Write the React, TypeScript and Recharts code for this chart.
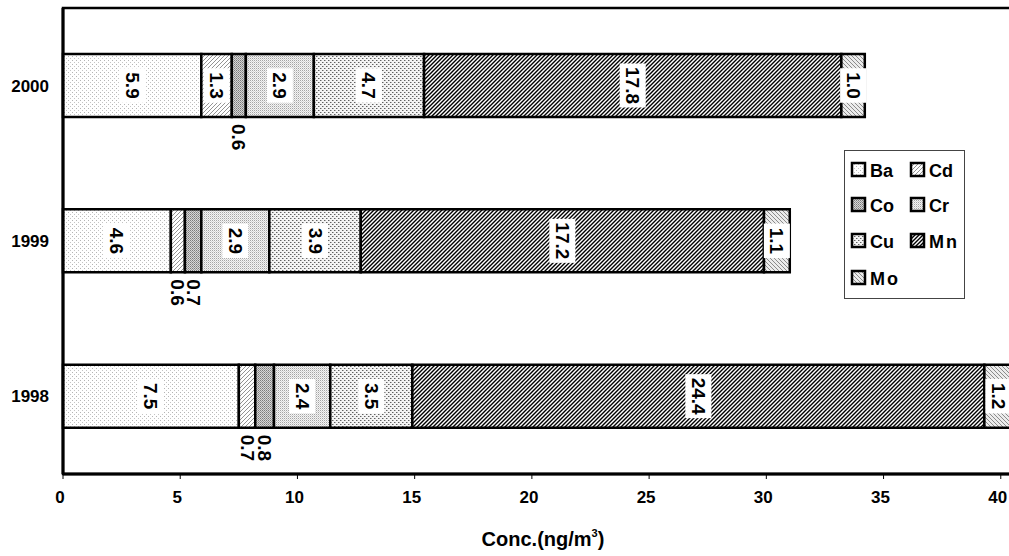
import React from "react";
import { Bar, BarChart, LabelList, Legend, ReferenceArea, XAxis, YAxis, Label } from "recharts";

const years = ["2000", "1999", "1998"];
const elements = ["Ba", "Cd", "Co", "Cr", "Cu", "Mn", "Mo"];
const ba = [5.9, 4.6, 7.5];
const cd = [1.3, 0.6, 0.7];
const co = [0.6, 0.7, 0.8];
const cr = [2.9, 2.9, 2.4];
const cu = [4.7, 3.9, 3.5];
const mn = [17.8, 17.2, 24.4];
const mo = [1.0, 1.1, 1.2];
const xTicks = [0, 5, 10, 15, 20, 25, 30, 35, 40];

const seriesValues = [ba, cd, co, cr, cu, mn, mo];
const rows = years.map((year, i) => {
  const row: Record<string, string | number> = { year };
  elements.forEach((el, j) => {
    row[el] = seriesValues[j][i];
  });
  return row;
});

const FONT = "'Liberation Sans', Arial, sans-serif";

function Patterns() {
  return (
    <defs>
      <pattern id="p-Ba" width="4" height="4" patternUnits="userSpaceOnUse">
        <rect width="4" height="4" fill="#fff" />
        <rect x="0" y="0" width="1" height="1" fill="#b4b4b4" />
        <rect x="2" y="2" width="1" height="1" fill="#c4c4c4" />
      </pattern>
      <pattern id="p-Cd" width="4" height="4" patternUnits="userSpaceOnUse">
        <rect width="4" height="4" fill="#fff" />
        <path d="M0,4 L4,0 M-1,1 L1,-1 M3,5 L5,3" stroke="#777" strokeWidth="0.8" />
      </pattern>
      <pattern id="p-Co" width="2" height="2" patternUnits="userSpaceOnUse">
        <rect width="2" height="2" fill="#d6d6d6" />
        <rect x="0" y="0" width="1" height="1" fill="#7a7a7a" />
        <rect x="1" y="1" width="1" height="1" fill="#9a9a9a" />
      </pattern>
      <pattern id="p-Cr" width="2" height="2" patternUnits="userSpaceOnUse">
        <rect width="2" height="2" fill="#f4f4f4" />
        <rect x="0" y="0" width="1" height="1" fill="#a4a4a4" />
        <rect x="1" y="1" width="1" height="1" fill="#d4d4d4" />
      </pattern>
      <pattern id="p-Cu" width="4" height="4" patternUnits="userSpaceOnUse">
        <rect width="4" height="4" fill="#f4f4f4" />
        <rect x="0" y="0" width="1" height="1" fill="#606060" />
        <rect x="2" y="2" width="1" height="1" fill="#606060" />
        <rect x="1" y="0" width="1" height="1" fill="#b0b0b0" />
        <rect x="3" y="2" width="1" height="1" fill="#b0b0b0" />
      </pattern>
      <pattern id="p-Mn" width="4" height="4" patternUnits="userSpaceOnUse">
        <rect width="4" height="4" fill="#fff" />
        <path d="M0,4 L4,0 M-1,1 L1,-1 M3,5 L5,3" stroke="#000" strokeWidth="1.4" />
      </pattern>
      <pattern id="p-Mo" width="4" height="4" patternUnits="userSpaceOnUse">
        <rect width="4" height="4" fill="#ececec" />
        <path d="M0,0 L4,4 M-1,3 L1,5 M3,-1 L5,1" stroke="#808080" strokeWidth="0.9" />
      </pattern>
    </defs>
  );
}

function segLabel(props: any) {
  const vb = props.viewBox ?? props;
  const x = Number(vb.x ?? props.x);
  const y = Number(vb.y ?? props.y);
  const w = Number(vb.width ?? props.width);
  const h = Number(vb.height ?? props.height);
  let v = props.value;
  if (Array.isArray(v)) v = v[1] - v[0];
  const text = Number(v).toFixed(1);
  const cx = x + w / 2;
  const fs = 19;
  const len = text.length * fs * 0.5;
  if (Number(v) < 0.95) {
    return (
      <g transform={`translate(${cx},${y + h + 7}) rotate(90)`}>
        <text x={0} y={0} textAnchor="start" dominantBaseline="central" fontFamily={FONT} fontWeight="bold" fontSize={fs} fill="#000">
          {text}
        </text>
      </g>
    );
  }
  return (
    <g transform={`translate(${cx},${y + h / 2}) rotate(90)`}>
      <rect x={-len / 2 - 3} y={-13} width={len + 6} height={26} fill="#fff" />
      <text x={0} y={0} textAnchor="middle" dominantBaseline="central" fontFamily={FONT} fontWeight="bold" fontSize={fs} fill="#000">
        {text}
      </text>
    </g>
  );
}

function LegendBox() {
  const cells = [
    [0, 0], [1, 0], [0, 1], [1, 1], [0, 2], [1, 2], [0, 3],
  ];
  const rowY = [20, 55, 91, 128];
  return (
    <svg width={121} height={149} style={{ display: "block" }}>
      <rect x={0.5} y={0.5} width={120} height={148} fill="#fff" stroke="#444" strokeWidth={1} />
      {elements.map((el, i) => {
        const [c, r] = cells[i];
        const sx = c === 0 ? 8 : 67;
        const cy = rowY[r];
        return (
          <g key={el}>
            <rect x={sx} y={cy - 7} width={13} height={13} fill={`url(#p-${el})`} stroke="#000" strokeWidth={2.5} />
            <text x={sx + 18} y={cy + 1} dominantBaseline="central" fontFamily={FONT} fontWeight="bold" fontSize={18} fill="#000" letterSpacing={el[0] === "M" ? 2 : 0}>
              {el}
            </text>
          </g>
        );
      })}
    </svg>
  );
}

function AxisTitle(props: any) {
  const vb = props.viewBox || { x: 63 };
  return (
    <text x={vb.x + 480} y={546} textAnchor="middle" fontFamily={FONT} fontWeight="bold" fontSize={20} fill="#000">
      Conc.(ng/m
      <tspan dy={-9} fontSize={11}>3</tspan>
      <tspan dy={9}>)</tspan>
    </text>
  );
}

function XTick(props: any) {
  const { x, y, payload } = props;
  return (
    <text x={x - 3} y={y} dy="0.71em" textAnchor="middle" fontFamily={FONT} fontWeight="bold" fontSize={17} fill="#000">
      {payload.value}
    </text>
  );
}

export default function App() {
  return (
    <div style={{ position: "absolute", left: 0, top: 0, width: 1009, height: 556, overflow: "hidden", background: "#fff" }}>
      <BarChart
        width={1130}
        height={556}
        layout="vertical"
        data={rows}
        margin={{ top: 8, right: 12, bottom: 0, left: 0 }}
        barSize={63}
      >
        <Patterns />
        <XAxis
          type="number"
          domain={[0, 45]}
          ticks={xTicks}
          height={82}
          axisLine={{ stroke: "#000", strokeWidth: 3 }}
          tickLine={{ stroke: "#000" }}
          tickSize={5}
          tickMargin={12}
          tick={XTick}
        >
          <Label content={AxisTitle} />
        </XAxis>
        <YAxis
          type="category"
          dataKey="year"
          width={63}
          axisLine={{ stroke: "#000", strokeWidth: 3 }}
          tickLine={false}
          tickSize={0}
          tickMargin={14}
          tick={{ fontFamily: FONT, fontWeight: "bold", fontSize: 17, fill: "#000" }}
        />
        <ReferenceArea x1={0} x2={45} fill="none" stroke="#000" strokeWidth={2.5} ifOverflow="visible" />
        {elements.map((el) => (
          <Bar key={el} dataKey={el} stackId="a" fill={`url(#p-${el})`} stroke="#000" strokeWidth={2.5} isAnimationActive={false}>
            <LabelList dataKey={el} content={segLabel} />
          </Bar>
        ))}
        <Legend
          layout="vertical"
          align="center"
          verticalAlign="middle"
          content={() => <LegendBox />}
          wrapperStyle={{ left: 844, top: 150, width: 121, height: 149 }}
        />
      </BarChart>
    </div>
  );
}
